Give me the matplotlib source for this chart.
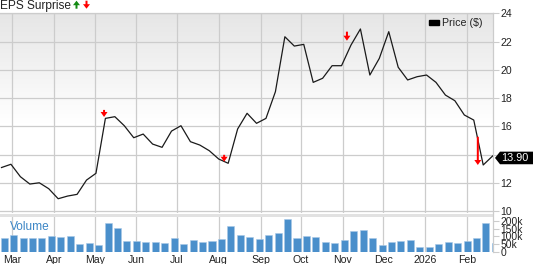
import numpy as np
import pandas as pd
import matplotlib
matplotlib.use("Agg")
import matplotlib.pyplot as plt
import matplotlib.dates as mdates
from matplotlib.patches import FancyArrow, Polygon, Rectangle, Patch
from matplotlib.transforms import IdentityTransform
from datetime import datetime

plt.rcParams['font.family'] = ['Liberation Sans', 'DejaVu Sans']

# ---------------- data ----------------
price_start = "2025-02-21"
prices = [13.08, 13.31, 12.43, 11.91, 12.00, 11.58, 10.87, 11.06, 11.18, 12.19,
          12.67, 16.56, 16.68, 16.04, 15.19, 15.45, 14.74, 14.51, 15.66, 16.04,
          14.91, 14.67, 14.27, 13.68, 13.38, 15.81, 16.92, 16.21, 16.56, 18.45,
          22.34, 21.68, 21.80, 19.11, 19.40, 20.29, 20.29, 21.75, 22.89, 19.63,
          20.81, 22.70, 20.18, 19.28, 19.51, 19.63, 19.11, 18.21, 17.81, 16.80,
          16.44, 13.26, 13.90]

volume_start = "2025-02-23"
volumes_k = [93, 112, 91, 91, 91, 103, 97, 103, 53, 61, 46, 185, 152, 74, 70, 65,
             65, 59, 91, 53, 78, 63, 72, 82, 166, 112, 95, 84, 112, 122, 213, 91,
             101, 97, 65, 59, 78, 135, 141, 91, 49, 63, 72, 76, 34, 34, 55, 68,
             59, 70, 89, 188, 57]

# earnings surprise markers (all misses -> red down arrows)
eps_dates = ["2025-05-08", "2025-08-05", "2025-11-04", "2026-02-09"]
eps_tail = [17.16, 13.98, 22.70, 15.26]
eps_tip = [16.66, 13.49, 22.06, 13.26]

price_ticks = [10, 12, 14, 16, 18, 20, 22, 24]
price_tick_labels = ["10", "12", "", "16", "18", "20", "22", "24"]
vol_ticks = [0, 50, 100, 150, 200]
vol_tick_labels = ["0", "50k", "100k", "150k", "200k"]
month_ticks = ["2025-03-01", "2025-04-01", "2025-05-01", "2025-06-01", "2025-07-01",
               "2025-08-01", "2025-09-01", "2025-10-01", "2025-11-01", "2025-12-01",
               "2026-01-01", "2026-02-01"]
month_labels = ["Mar", "Apr", "May", "Jun", "Jul", "Aug", "Sep", "Oct", "Nov", "Dec",
                "2026", "Feb"]

price_dates = pd.date_range(price_start, periods=len(prices), freq="7D")
vol_dates = pd.date_range(volume_start, periods=len(volumes_k), freq="7D")

# ---------------- figure ----------------
W, H = 533, 264
fig = plt.figure(figsize=(W / 100, H / 100), dpi=100)

GRID = "#cccccc"
TXT = "#222222"


def fx(px):
    return px / W


def fy(py):
    return 1 - py / H


ax = fig.add_axes([0, fy(213), fx(492.7), (213 - 12.6) / H])
axv = fig.add_axes([0, fy(252.3), fx(492.7), (252.3 - 214) / H], sharex=ax)

xlim = (datetime(2025, 2, 19, 21, 13), datetime(2026, 2, 20, 0, 49))

# gradient background for price panel
grad = np.linspace(0, 1, 256)
col = np.clip((grad - 0.45) / 0.55, 0, 1)
top = np.array([0.90, 0.90, 0.90])
img = np.ones((256, 1, 3)) * 1.0
for i in range(3):
    img[:, 0, i] = 1 - (1 - top[i]) * col
ax.imshow(img, extent=(0, 1, 0, 1), transform=ax.transAxes, origin="lower",
          aspect="auto", zorder=0, interpolation="bilinear")

# price line
ax.plot(price_dates, prices, color="#1a1a1a", lw=0.9, zorder=3)

ax.set_xlim(xlim)
ax.set_ylim(9.86, 24.05)

# grid
ax.set_yticks(price_ticks)
ax.set_yticklabels(price_tick_labels)
ax.set_xticks(pd.to_datetime(month_ticks))
ax.grid(True, color=GRID, lw=0.9, zorder=1)
ax.set_axisbelow(True)
ax.tick_params(axis="x", which="both", length=0, labelbottom=False)
ax.yaxis.tick_right()
ax.tick_params(axis="y", length=4.3, width=0.8, color=GRID, pad=1.2,
               labelsize=7.6, labelcolor=TXT)
for s in ["left", "bottom"]:
    ax.spines[s].set_visible(False)
for s in ["top", "right"]:
    ax.spines[s].set_color(GRID)
    ax.spines[s].set_linewidth(0.9)

# earnings arrows
day_px = 1.3493
unit_px = (211 - 13.3) / 14
for d, t0, t1 in zip(eps_dates, eps_tail, eps_tip):
    xd = mdates.date2num(pd.Timestamp(d))
    arr = FancyArrow(xd, t0, 0, t1 - t0, width=2.0 / day_px,
                     head_width=7.0 / day_px, head_length=5.0 / unit_px,
                     length_includes_head=True, color="#ff0000", lw=0, zorder=4)
    ax.add_patch(arr)

# legend
leg = ax.legend(handles=[Patch(facecolor="black", edgecolor="black", label="Price ($)")],
                loc="upper right", bbox_to_anchor=(483 / 492.7, 1 - 5.5 / 200.4),
                frameon=False, fontsize=7.7, handlelength=1.0, handleheight=0.4,
                handletextpad=0.3, borderpad=0, borderaxespad=0)
for t in leg.get_texts():
    t.set_color(TXT)

# volume panel
axv.bar(vol_dates, volumes_k, width=5.2, color="#4a8fcb", edgecolor="#a9c9e6",
        lw=0.4, zorder=3)
axv.set_ylim(0, 242.4)
axv.set_xlim(xlim)
axv.set_yticks(vol_ticks)
axv.set_yticklabels(vol_tick_labels)
axv.yaxis.tick_right()
axv.tick_params(axis="y", length=4.3, width=0.8, color=GRID, pad=1.2,
                labelsize=7.4, labelcolor=TXT)
axv.set_xticks(pd.to_datetime(month_ticks))
axv.set_xticklabels(month_labels)
axv.tick_params(axis="x", length=0, pad=1.6, labelsize=7.6, labelcolor=TXT)
axv.grid(True, axis="x", color=GRID, lw=0.9, zorder=1)
axv.set_axisbelow(True)
for s in ["left", "bottom", "top"]:
    axv.spines[s].set_visible(False)
axv.spines["right"].set_color(GRID)
axv.spines["right"].set_linewidth(0.9)
axv.add_patch(Rectangle((0, (252.3 - 217) / 38.3), 1, 1 - (252.3 - 217) / 38.3,
                        transform=axv.transAxes, color="#e2e2e2", lw=0, zorder=2))
axv.text(fx(10) / fx(492.7), (252.3 - 227) / 38.3, "Volume", transform=axv.transAxes,
         fontsize=8.6, color="#3c86c6", va="center", ha="left", zorder=5)

# title
fig.text(0, 1 - 0.5 / H, "EPS Surprise", fontsize=8.6, color=TXT, va="top", ha="left")
fig.add_artist(FancyArrow(76.5, H - 8.7, 0, 8.0, width=2.0, head_width=7.0,
                          head_length=4.5, length_includes_head=True,
                          color="#138a13", lw=0, transform=IdentityTransform()))
fig.add_artist(FancyArrow(86.5, H - 0.7, 0, -8.0, width=2.0, head_width=7.0,
                          head_length=4.5, length_includes_head=True,
                          color="#ff0000", lw=0, transform=IdentityTransform()))

# last price tag
last = prices[-1]
ycen = ax.transData.transform((mdates.date2num(price_dates[-1]), last))[1] - 2.0
hh = 6.3
tag = Polygon([(495, ycen), (500, ycen + hh), (W + 2, ycen + hh), (W + 2, ycen - hh),
               (500, ycen - hh)], closed=True, facecolor="black", edgecolor="none",
              transform=IdentityTransform())
fig.add_artist(tag)
fig.text(514.8, ycen, f"{last:.2f}", color="white", fontsize=7.8, ha="center",
         va="center", transform=IdentityTransform())

fig.savefig("out.png", dpi=100)
